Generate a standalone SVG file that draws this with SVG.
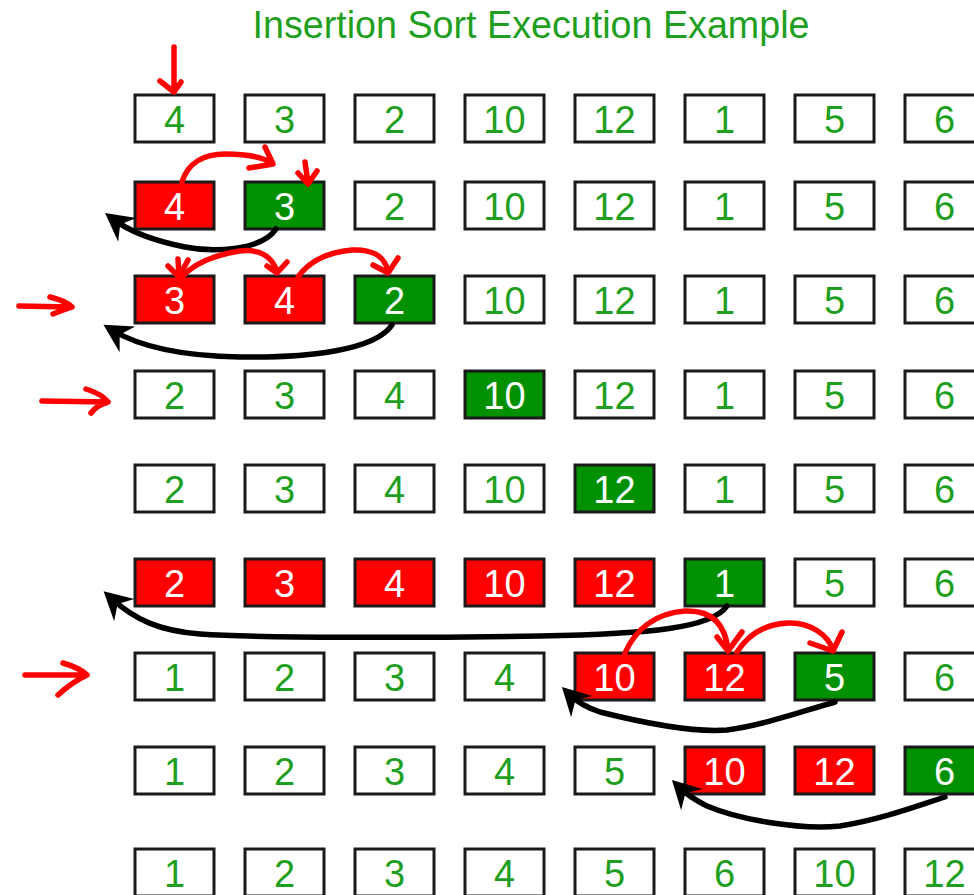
<svg xmlns="http://www.w3.org/2000/svg" width="974" height="895" viewBox="0 0 974 895">
  <style>
    .box rect { stroke: #1a1a1a; stroke-width: 3; }
    .w rect { fill: #ffffff; }
    .r rect { fill: #ff0000; }
    .g rect { fill: #009000; }
    .box text { font-family: "Liberation Sans", Arial, sans-serif; font-size: 38px; text-anchor: middle; }
    .w text { fill: #1f9f1f; }
    .r text, .g text { fill: #ffffff; }
    .title { font-family: "Liberation Sans", Arial, sans-serif; font-size: 38px; fill: #1f9f1f; text-anchor: middle; }
    .move { fill: none; stroke: #000000; stroke-width: 5.5; stroke-linecap: round; marker-end: url(#head); }
    .hand { fill: none; stroke: #ff0000; stroke-width: 5.5; stroke-linecap: round; stroke-linejoin: round; }
  </style>
  <defs>
    <marker id="head" markerUnits="userSpaceOnUse" viewBox="-20 -17 32 34" refX="0" refY="0" markerWidth="32" markerHeight="34" orient="auto">
      <polygon points="10,0 -18,-15 -9,0 -18,15" fill="#000000"/>
    </marker>
  </defs>

  <rect width="974" height="895" fill="#ffffff"/>
  <text class="title" x="531" y="38" textLength="557" lengthAdjust="spacingAndGlyphs">Insertion Sort Execution Example</text>

  <!-- row 1 -->
  <g id="r1c1" class="box w"><rect x="135" y="95" width="79" height="47"/><text x="174.5" y="132.5">4</text></g>
  <g id="r1c2" class="box w"><rect x="245" y="95" width="79" height="47"/><text x="284.5" y="132.5">3</text></g>
  <g id="r1c3" class="box w"><rect x="355" y="95" width="79" height="47"/><text x="394.5" y="132.5">2</text></g>
  <g id="r1c4" class="box w"><rect x="465" y="95" width="79" height="47"/><text x="504.5" y="132.5">10</text></g>
  <g id="r1c5" class="box w"><rect x="575" y="95" width="79" height="47"/><text x="614.5" y="132.5">12</text></g>
  <g id="r1c6" class="box w"><rect x="685" y="95" width="79" height="47"/><text x="724.5" y="132.5">1</text></g>
  <g id="r1c7" class="box w"><rect x="795" y="95" width="79" height="47"/><text x="834.5" y="132.5">5</text></g>
  <g id="r1c8" class="box w"><rect x="905" y="95" width="79" height="47"/><text x="944.5" y="132.5">6</text></g>

  <!-- row 2 -->
  <g id="r2c1" class="box r"><rect x="135" y="182" width="79" height="47"/><text x="174.5" y="219.5">4</text></g>
  <g id="r2c2" class="box g"><rect x="245" y="182" width="79" height="47"/><text x="284.5" y="219.5">3</text></g>
  <g id="r2c3" class="box w"><rect x="355" y="182" width="79" height="47"/><text x="394.5" y="219.5">2</text></g>
  <g id="r2c4" class="box w"><rect x="465" y="182" width="79" height="47"/><text x="504.5" y="219.5">10</text></g>
  <g id="r2c5" class="box w"><rect x="575" y="182" width="79" height="47"/><text x="614.5" y="219.5">12</text></g>
  <g id="r2c6" class="box w"><rect x="685" y="182" width="79" height="47"/><text x="724.5" y="219.5">1</text></g>
  <g id="r2c7" class="box w"><rect x="795" y="182" width="79" height="47"/><text x="834.5" y="219.5">5</text></g>
  <g id="r2c8" class="box w"><rect x="905" y="182" width="79" height="47"/><text x="944.5" y="219.5">6</text></g>

  <!-- row 3 -->
  <g id="r3c1" class="box r"><rect x="135" y="276" width="79" height="47"/><text x="174.5" y="313.5">3</text></g>
  <g id="r3c2" class="box r"><rect x="245" y="276" width="79" height="47"/><text x="284.5" y="313.5">4</text></g>
  <g id="r3c3" class="box g"><rect x="355" y="276" width="79" height="47"/><text x="394.5" y="313.5">2</text></g>
  <g id="r3c4" class="box w"><rect x="465" y="276" width="79" height="47"/><text x="504.5" y="313.5">10</text></g>
  <g id="r3c5" class="box w"><rect x="575" y="276" width="79" height="47"/><text x="614.5" y="313.5">12</text></g>
  <g id="r3c6" class="box w"><rect x="685" y="276" width="79" height="47"/><text x="724.5" y="313.5">1</text></g>
  <g id="r3c7" class="box w"><rect x="795" y="276" width="79" height="47"/><text x="834.5" y="313.5">5</text></g>
  <g id="r3c8" class="box w"><rect x="905" y="276" width="79" height="47"/><text x="944.5" y="313.5">6</text></g>

  <!-- row 4 -->
  <g id="r4c1" class="box w"><rect x="135" y="371" width="79" height="47"/><text x="174.5" y="408.5">2</text></g>
  <g id="r4c2" class="box w"><rect x="245" y="371" width="79" height="47"/><text x="284.5" y="408.5">3</text></g>
  <g id="r4c3" class="box w"><rect x="355" y="371" width="79" height="47"/><text x="394.5" y="408.5">4</text></g>
  <g id="r4c4" class="box g"><rect x="465" y="371" width="79" height="47"/><text x="504.5" y="408.5">10</text></g>
  <g id="r4c5" class="box w"><rect x="575" y="371" width="79" height="47"/><text x="614.5" y="408.5">12</text></g>
  <g id="r4c6" class="box w"><rect x="685" y="371" width="79" height="47"/><text x="724.5" y="408.5">1</text></g>
  <g id="r4c7" class="box w"><rect x="795" y="371" width="79" height="47"/><text x="834.5" y="408.5">5</text></g>
  <g id="r4c8" class="box w"><rect x="905" y="371" width="79" height="47"/><text x="944.5" y="408.5">6</text></g>

  <!-- row 5 -->
  <g id="r5c1" class="box w"><rect x="135" y="465" width="79" height="47"/><text x="174.5" y="502.5">2</text></g>
  <g id="r5c2" class="box w"><rect x="245" y="465" width="79" height="47"/><text x="284.5" y="502.5">3</text></g>
  <g id="r5c3" class="box w"><rect x="355" y="465" width="79" height="47"/><text x="394.5" y="502.5">4</text></g>
  <g id="r5c4" class="box w"><rect x="465" y="465" width="79" height="47"/><text x="504.5" y="502.5">10</text></g>
  <g id="r5c5" class="box g"><rect x="575" y="465" width="79" height="47"/><text x="614.5" y="502.5">12</text></g>
  <g id="r5c6" class="box w"><rect x="685" y="465" width="79" height="47"/><text x="724.5" y="502.5">1</text></g>
  <g id="r5c7" class="box w"><rect x="795" y="465" width="79" height="47"/><text x="834.5" y="502.5">5</text></g>
  <g id="r5c8" class="box w"><rect x="905" y="465" width="79" height="47"/><text x="944.5" y="502.5">6</text></g>

  <!-- row 6 -->
  <g id="r6c1" class="box r"><rect x="135" y="559" width="79" height="47"/><text x="174.5" y="596.5">2</text></g>
  <g id="r6c2" class="box r"><rect x="245" y="559" width="79" height="47"/><text x="284.5" y="596.5">3</text></g>
  <g id="r6c3" class="box r"><rect x="355" y="559" width="79" height="47"/><text x="394.5" y="596.5">4</text></g>
  <g id="r6c4" class="box r"><rect x="465" y="559" width="79" height="47"/><text x="504.5" y="596.5">10</text></g>
  <g id="r6c5" class="box r"><rect x="575" y="559" width="79" height="47"/><text x="614.5" y="596.5">12</text></g>
  <g id="r6c6" class="box g"><rect x="685" y="559" width="79" height="47"/><text x="724.5" y="596.5">1</text></g>
  <g id="r6c7" class="box w"><rect x="795" y="559" width="79" height="47"/><text x="834.5" y="596.5">5</text></g>
  <g id="r6c8" class="box w"><rect x="905" y="559" width="79" height="47"/><text x="944.5" y="596.5">6</text></g>

  <!-- row 7 -->
  <g id="r7c1" class="box w"><rect x="135" y="653" width="79" height="47"/><text x="174.5" y="690.5">1</text></g>
  <g id="r7c2" class="box w"><rect x="245" y="653" width="79" height="47"/><text x="284.5" y="690.5">2</text></g>
  <g id="r7c3" class="box w"><rect x="355" y="653" width="79" height="47"/><text x="394.5" y="690.5">3</text></g>
  <g id="r7c4" class="box w"><rect x="465" y="653" width="79" height="47"/><text x="504.5" y="690.5">4</text></g>
  <g id="r7c5" class="box r"><rect x="575" y="653" width="79" height="47"/><text x="614.5" y="690.5">10</text></g>
  <g id="r7c6" class="box r"><rect x="685" y="653" width="79" height="47"/><text x="724.5" y="690.5">12</text></g>
  <g id="r7c7" class="box g"><rect x="795" y="653" width="79" height="47"/><text x="834.5" y="690.5">5</text></g>
  <g id="r7c8" class="box w"><rect x="905" y="653" width="79" height="47"/><text x="944.5" y="690.5">6</text></g>

  <!-- row 8 -->
  <g id="r8c1" class="box w"><rect x="135" y="747" width="79" height="47"/><text x="174.5" y="784.5">1</text></g>
  <g id="r8c2" class="box w"><rect x="245" y="747" width="79" height="47"/><text x="284.5" y="784.5">2</text></g>
  <g id="r8c3" class="box w"><rect x="355" y="747" width="79" height="47"/><text x="394.5" y="784.5">3</text></g>
  <g id="r8c4" class="box w"><rect x="465" y="747" width="79" height="47"/><text x="504.5" y="784.5">4</text></g>
  <g id="r8c5" class="box w"><rect x="575" y="747" width="79" height="47"/><text x="614.5" y="784.5">5</text></g>
  <g id="r8c6" class="box r"><rect x="685" y="747" width="79" height="47"/><text x="724.5" y="784.5">10</text></g>
  <g id="r8c7" class="box r"><rect x="795" y="747" width="79" height="47"/><text x="834.5" y="784.5">12</text></g>
  <g id="r8c8" class="box g"><rect x="905" y="747" width="79" height="47"/><text x="944.5" y="784.5">6</text></g>

  <!-- row 9 -->
  <g id="r9c1" class="box w"><rect x="135" y="849" width="79" height="47"/><text x="174.5" y="886.5">1</text></g>
  <g id="r9c2" class="box w"><rect x="245" y="849" width="79" height="47"/><text x="284.5" y="886.5">2</text></g>
  <g id="r9c3" class="box w"><rect x="355" y="849" width="79" height="47"/><text x="394.5" y="886.5">3</text></g>
  <g id="r9c4" class="box w"><rect x="465" y="849" width="79" height="47"/><text x="504.5" y="886.5">4</text></g>
  <g id="r9c5" class="box w"><rect x="575" y="849" width="79" height="47"/><text x="614.5" y="886.5">5</text></g>
  <g id="r9c6" class="box w"><rect x="685" y="849" width="79" height="47"/><text x="724.5" y="886.5">6</text></g>
  <g id="r9c7" class="box w"><rect x="795" y="849" width="79" height="47"/><text x="834.5" y="886.5">10</text></g>
  <g id="r9c8" class="box w"><rect x="905" y="849" width="79" height="47"/><text x="944.5" y="886.5">12</text></g>

  <g id="connectors">
    <!-- black moves: key element slides left to its slot -->
    <path class="move" d="M276,229 C262,250 215,253 185,247 C155,241 130,232 113,219"/>
    <path class="move" d="M392,325 C375,350 310,358 240,357 C180,356 140,347 112,330"/>
    <path class="move" d="M727,606 C712,628 650,634 540,636 C420,638 260,638 200,634 C160,631 135,620 111,598"/>
    <path class="move" d="M835,702 C800,712 760,726 727,730 C690,733 640,722 600,712 C585,707 576,701 569,694"/>
    <path class="move" d="M945,797 C920,805 880,820 840,826 C800,830 740,820 707,806 C695,800 686,794 679,787"/>

    <!-- red hand-drawn marks: shifts and row pointers -->
    <path class="hand" d="M174,47 L174,90 M160,81 L174,92 L181,82"/>
    <path class="hand" d="M182,182 C188,162 205,154 225,154 C245,154 262,157 272,163 M265,147 L273,164 L249,168"/>
    <path class="hand" d="M305,162 L308,183 M298,173 L308,184 L317,171"/>
    <path class="hand" d="M178,259 L179,276 M168,266 L179,277 L188,260"/>
    <path class="hand" d="M182,277 C195,262 215,255 240,251 C258,249 272,255 277,272 M267,266 L277,273 L287,262"/>
    <path class="hand" d="M298,277 C310,260 330,252 352,250 C370,249 385,255 388,272 M373,265 L388,273 L398,258"/>
    <path class="hand" d="M19,306 L71,307 M50,297 Q66,301 72,307 Q63,310 53,314"/>
    <path class="hand" d="M42,401 L108,402 M86,389 Q102,394 108,402 Q97,405 91,413"/>
    <path class="hand" d="M25,675 L87,675 M63,663 Q80,668 87,675 Q72,682 58,695"/>
    <path class="hand" d="M625,653 C635,630 655,613 685,611 C710,610 725,622 728,650 M717,637 L728,651 L742,632"/>
    <path class="hand" d="M737,652 C748,635 765,624 788,623 C810,622 828,635 833,650 M810,643 L833,651 L842,632"/>
  </g>
</svg>
